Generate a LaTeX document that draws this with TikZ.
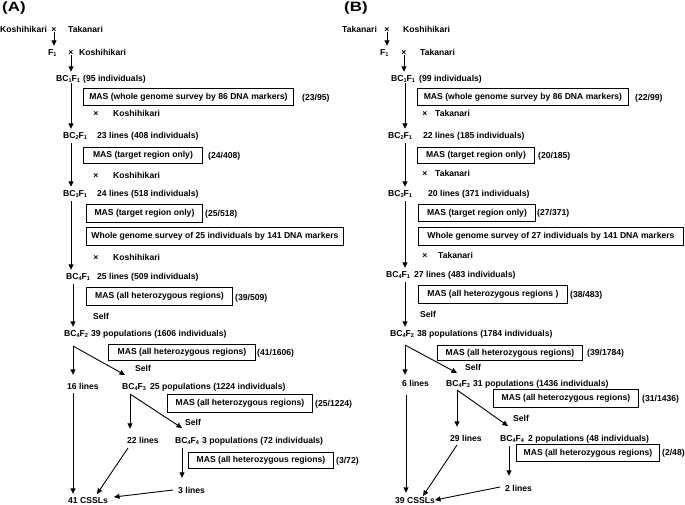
\documentclass[tikz,border=0pt]{standalone}
\usepackage{fontspec}
\setmainfont{Liberation Sans}
\newfontfamily\panelfont{Liberation Sans}[FakeStretch=1.25]
\usetikzlibrary{arrows.meta}
\newcommand\sbs[1]{\raisebox{-1.6pt}{\fontsize{5.6}{6}\selectfont\bfseries #1}}
\newcommand\bcf[2]{BC\sbs{#1}F\sbs{#2}}
\begin{document}
\begin{tikzpicture}[x=1pt,y=-1pt,
  txt/.style={font=\fontsize{8.6}{10}\selectfont\bfseries},
  lbl/.style={txt, inner sep=0pt, anchor=west, text height=6pt, text depth=0pt},
  crs/.style={txt, inner sep=0pt, anchor=center, text height=6pt, text depth=0pt},
  mas/.style={txt, draw, line width=0.9pt, inner sep=0pt, anchor=north west, align=center},
  panel/.style={inner sep=0pt, anchor=west, font=\fontsize{13.5}{15}\panelfont\bfseries},
  arr/.style={line width=0.9pt, -{Triangle[length=5.5pt,width=5pt]}}
]
\useasboundingbox (0,0) rectangle (685,504);

% ---------------- Panel A ----------------
\node[panel] (a-lab) at (2,8.5) {(A)};
\node[lbl] (a-k0) at (0,29) {Koshihikari};
\node[crs] (a-x1) at (54,29) {×};
\node[lbl] (a-t0) at (68,29) {Takanari};
\node[lbl] (a-f1) at (48,52) {F\sbs{1}};
\node[crs] (a-x2) at (71,52) {×};
\node[lbl] (a-k1) at (79,52) {Koshihikari};
\node[lbl] (a-bc1) at (56,78) {\bcf11};
\node[lbl] (a-n1) at (83,78) {(95 individuals)};
\node[mas, minimum width=210pt, minimum height=17pt] (a-m1) at (83,88) {MAS (whole genome survey by 86 DNA markers)};
\node[lbl] (a-r1) at (302,97) {(23/95)};
\node[crs] (a-x3) at (96,113) {×};
\node[lbl] (a-k2) at (113,113) {Koshihikari};
\node[lbl] (a-bc2) at (63,135) {\bcf21};
\node[lbl] (a-n2) at (97,135) {23 lines (408 individuals)};
\node[mas, minimum width=119pt, minimum height=16pt] (a-m2) at (83,147) {MAS (target region only)};
\node[lbl] (a-r2) at (208,155) {(24/408)};
\node[crs] (a-x4) at (96,175) {×};
\node[lbl] (a-k3) at (113,175) {Koshihikari};
\node[lbl] (a-bc3) at (63,193) {\bcf31};
\node[lbl] (a-n3) at (97,193) {24 lines (518 individuals)};
\node[mas, minimum width=116pt, minimum height=18pt] (a-m3) at (86,204) {MAS (target region only)};
\node[lbl] (a-r3) at (205,213) {(25/518)};
\node[mas, minimum width=257pt, minimum height=18pt] (a-w) at (86,227) {Whole genome survey of 25 individuals by 141 DNA markers};
\node[crs] (a-x5) at (96,257) {×};
\node[lbl] (a-k4) at (113,257) {Koshihikari};
\node[lbl] (a-bc4) at (66,276) {\bcf41};
\node[lbl] (a-n4) at (97,276) {25 lines (509 individuals)};
\node[mas, minimum width=146pt, minimum height=18pt] (a-m4) at (86,287) {MAS (all heterozygous regions)};
\node[lbl] (a-r4) at (235,297) {(39/509)};
\node[lbl] (a-s1) at (93,316) {Self};
\node[lbl] (a-bc5) at (64,333) {\bcf42};
\node[lbl] (a-n5) at (91,333) {39 populations (1606 individuals)};
\node[mas, minimum width=147pt, minimum height=16pt] (a-m5) at (108,344) {MAS (all heterozygous regions)};
\node[lbl] (a-r5) at (257,352) {(41/1606)};
\node[lbl] (a-s2) at (135,368) {Self};
\node[lbl] (a-l16) at (67,386) {16 lines};
\node[lbl] (a-bc6) at (122,386) {\bcf43};
\node[lbl] (a-n6) at (150,386) {25 populations (1224 individuals)};
\node[mas, minimum width=145pt, minimum height=18pt] (a-m6) at (167,394) {MAS (all heterozygous regions)};
\node[lbl] (a-r6) at (315,403) {(25/1224)};
\node[lbl] (a-s3) at (185,422) {Self};
\node[lbl] (a-l22) at (127,440) {22 lines};
\node[lbl] (a-bc7) at (175,440) {\bcf44};
\node[lbl] (a-n7) at (202,440) {3 populations (72 individuals)};
\node[mas, minimum width=145pt, minimum height=16pt] (a-m7) at (188,452) {MAS (all heterozygous regions)};
\node[lbl] (a-r7) at (336,460) {(3/72)};
\node[lbl] (a-l3) at (178,490) {3 lines};
\node[lbl] (a-css) at (68,500) {41 CSSLs};

\coordinate (a-tr) at (71,0);
\coordinate (a-b1) at (73,346);
\coordinate (a-e1) at (125,375);
\coordinate (a-b2) at (130,394);
\coordinate (a-e2) at (182,428);
\coordinate (a-d) at (182,0);
\coordinate (a-s22) at (128,448);
\coordinate (a-e22) at (97,494);
\coordinate (a-s3c) at (173,490);
\coordinate (a-e3) at (114,497);

\draw[arr, shorten >=3pt] (a-x1.south) -- (a-x1.south |- a-f1.north);
\draw[arr, shorten >=3pt] (a-x2.south) -- (a-x2.south |- a-bc1.north);
\draw[arr, shorten <=2pt, shorten >=3pt] (a-bc1.south -| a-tr) -- (a-bc2.north -| a-tr);
\draw[arr, shorten <=5pt, shorten >=3pt] (a-bc2.south -| a-tr) -- (a-bc3.north -| a-tr);
\draw[arr, shorten <=5pt, shorten >=3pt] (a-bc3.south -| a-tr) -- (a-bc4.north -| a-tr);
\draw[arr, shorten <=5pt, shorten >=3pt] (a-bc4.south -| a-b1) -- (a-bc5.north -| a-b1);
\draw[arr, shorten >=8pt] (a-b1) -- (a-b1 |- a-l16.north);
\draw[arr] (a-b1) -- (a-e1);
\draw[arr, shorten >=8pt] (a-b2) -- (a-b2 |- a-l22.north);
\draw[arr] (a-b2) -- (a-e2);
\draw[arr, shorten <=5pt, shorten >=9pt] (a-bc7.south -| a-d) -- (a-l3.north -| a-d);
\draw[arr, shorten <=4pt, shorten >=3pt] (a-l16.south -| a-b1) -- (a-css.north -| a-b1);
\draw[arr] (a-s22) -- (a-e22);
\draw[arr] (a-s3c) -- (a-e3);

% ---------------- Panel B ----------------
\node[panel] (b-lab) at (344,8.5) {(B)};
\node[lbl] (b-t0) at (342,29) {Takanari};
\node[crs] (b-x1) at (387,29) {×};
\node[lbl] (b-k0) at (403,29) {Koshihikari};
\node[lbl] (b-f1) at (380,52) {F\sbs{1}};
\node[crs] (b-x2) at (404,52) {×};
\node[lbl] (b-t1) at (420,52) {Takanari};
\node[lbl] (b-bc1) at (391,78) {\bcf11};
\node[lbl] (b-n1) at (419,78) {(99 individuals)};
\node[mas, minimum width=211pt, minimum height=17pt] (b-m1) at (417,88) {MAS (whole genome survey by 86 DNA markers)};
\node[lbl] (b-r1) at (635,97) {(22/99)};
\node[crs] (b-x3) at (425,113) {×};
\node[lbl] (b-t2) at (435,113) {Takanari};
\node[lbl] (b-bc2) at (388,135) {\bcf21};
\node[lbl] (b-n2) at (423,135) {22 lines (185 individuals)};
\node[mas, minimum width=117pt, minimum height=16pt] (b-m2) at (417,147) {MAS (target region only)};
\node[lbl] (b-r2) at (538,155) {(20/185)};
\node[crs] (b-x4) at (425,173) {×};
\node[lbl] (b-t3) at (435,173) {Takanari};
\node[lbl] (b-bc3) at (388,193) {\bcf31};
\node[lbl] (b-n3) at (428,193) {20 lines (371 individuals)};
\node[mas, minimum width=117pt, minimum height=17pt] (b-m3) at (418,204) {MAS (target region only)};
\node[lbl] (b-r3) at (537,212) {(27/371)};
\node[mas, minimum width=265pt, minimum height=18pt] (b-w) at (418,227) {Whole genome survey of 27 individuals by 141 DNA markers};
\node[crs] (b-x5) at (425,255) {×};
\node[lbl] (b-t4) at (438,255) {Takanari};
\node[lbl] (b-bc4) at (386,274) {\bcf41};
\node[lbl] (b-n4) at (414,274) {27 lines (483 individuals)};
\node[mas, minimum width=149pt, minimum height=18pt] (b-m4) at (418,285) {MAS (all heterozygous regions )};
\node[lbl] (b-r4) at (570,294) {(38/483)};
\node[lbl] (b-s1) at (420,314) {Self};
\node[lbl] (b-bc5) at (390,333) {\bcf42};
\node[lbl] (b-n5) at (417,333) {38 populations (1784 individuals)};
\node[mas, minimum width=145pt, minimum height=15pt] (b-m5) at (437,345) {MAS (all heterozygous regions)};
\node[lbl] (b-r5) at (587,352) {(39/1784)};
\node[lbl] (b-s2) at (465,367) {Self};
\node[lbl] (b-l6) at (402,383) {6 lines};
\node[lbl] (b-bc6) at (446,383) {\bcf43};
\node[lbl] (b-n6) at (473,383) {31 populations (1436 individuals)};
\node[mas, minimum width=145pt, minimum height=18pt] (b-m6) at (493,389) {MAS (all heterozygous regions)};
\node[lbl] (b-r6) at (642,398) {(31/1436)};
\node[lbl] (b-s3) at (513,418) {Self};
\node[lbl] (b-l29) at (450,438) {29 lines};
\node[lbl] (b-bc7) at (500,438) {\bcf44};
\node[lbl] (b-n7) at (528,438) {2 populations (48 individuals)};
\node[mas, minimum width=143pt, minimum height=17pt] (b-m7) at (516,444) {MAS (all heterozygous regions)};
\node[lbl] (b-r7) at (662,452) {(2/48)};
\node[lbl] (b-l2) at (505,488) {2 lines};
\node[lbl] (b-css) at (395,500) {39 CSSLs};

\coordinate (b-tr) at (405,0);
\coordinate (b-b1) at (405,345);
\coordinate (b-e1) at (457,373);
\coordinate (b-b2) at (457,390);
\coordinate (b-e2) at (508,426);
\coordinate (b-d) at (509,0);
\coordinate (b-c6) at (406,0);
\coordinate (b-s29) at (457,445);
\coordinate (b-e29) at (423,496);
\coordinate (b-s2c) at (500,487);
\coordinate (b-e2c) at (435,500);

\draw[arr, shorten >=3pt] (b-x1.south) -- (b-x1.south |- b-f1.north);
\draw[arr, shorten >=3pt] (b-x2.south) -- (b-x2.south |- b-bc1.north);
\draw[arr, shorten <=2pt, shorten >=3pt] (b-bc1.south -| b-tr) -- (b-bc2.north -| b-tr);
\draw[arr, shorten <=5pt, shorten >=3pt] (b-bc2.south -| b-tr) -- (b-bc3.north -| b-tr);
\draw[arr, shorten <=5pt, shorten >=3pt] (b-bc3.south -| b-tr) -- (b-bc4.north -| b-tr);
\draw[arr, shorten <=5pt, shorten >=3pt] (b-bc4.south -| b-tr) -- (b-bc5.north -| b-tr);
\draw[arr, shorten >=5pt] (b-b1) -- (b-b1 |- b-l6.north);
\draw[arr] (b-b1) -- (b-e1);
\draw[arr, shorten >=8pt] (b-b2) -- (b-b2 |- b-l29.north);
\draw[arr] (b-b2) -- (b-e2);
\draw[arr, shorten <=5pt, shorten >=9pt] (b-bc7.south -| b-d) -- (b-l2.north -| b-d);
\draw[arr, shorten <=9pt, shorten >=4pt] (b-l6.south -| b-c6) -- (b-css.north -| b-c6);
\draw[arr] (b-s29) -- (b-e29);
\draw[arr] (b-s2c) -- (b-e2c);
\end{tikzpicture}
\end{document}
